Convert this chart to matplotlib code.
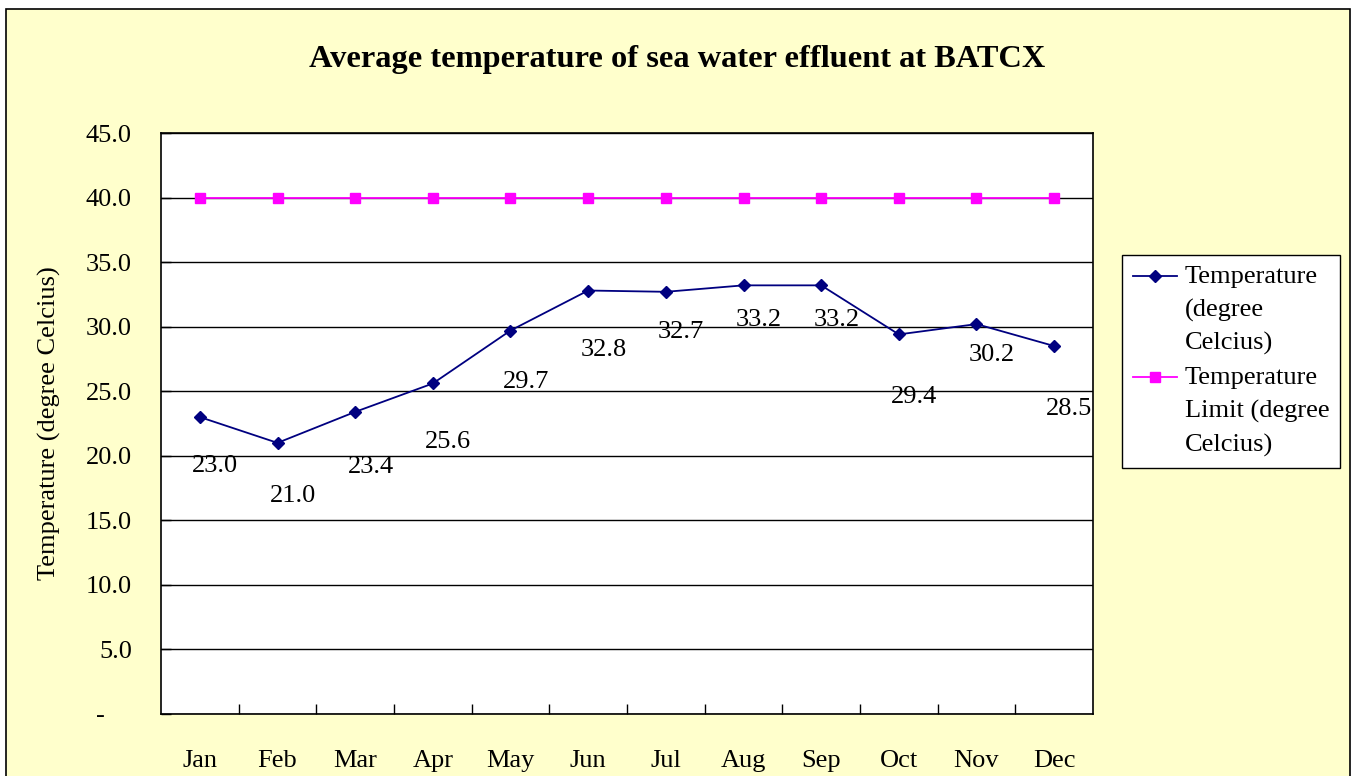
import numpy as np
import matplotlib.pyplot as plt
from matplotlib.patches import Rectangle
from matplotlib.ticker import FixedLocator
from matplotlib.legend_handler import HandlerLine2D

months = ["Jan", "Feb", "Mar", "Apr", "May", "Jun",
          "Jul", "Aug", "Sep", "Oct", "Nov", "Dec"]
temperature = [23.0, 21.0, 23.4, 25.6, 29.7, 32.8, 32.7, 33.2, 33.2, 29.4, 30.2, 28.5]
temp_limit = [40.0] * 12
# how far below its point each data label sits (points), hand placed like in the source
label_drop = [35, 38, 40, 42, 37, 43, 29, 25, 25, 45, 22, 45]

FS = 19
LSP = 1.6

plt.rcParams["font.family"] = ["Liberation Serif", "DejaVu Serif"]


class FirstLineHandler(HandlerLine2D):
    # put the legend line next to the first line of a wrapped label (Excel style)
    def __init__(self, shift, **kw):
        super().__init__(**kw)
        self.shift = shift

    def create_artists(self, legend, orig_handle, xdescent, ydescent,
                       width, height, fontsize, trans):
        arts = super().create_artists(legend, orig_handle, xdescent, ydescent,
                                      width, height, fontsize, trans)
        for a in arts:
            a.set_ydata(np.asarray(a.get_ydata()) + self.shift)
        return arts


fig = plt.figure(figsize=(13.54, 7.76), dpi=100, facecolor="white")

# yellow chart area with its thin frame (bottom edge cut off in the source)
fig.patches.append(Rectangle((6 / 1354, -0.05), 1344 / 1354, 1.05 - 9 / 776,
                             transform=fig.transFigure, facecolor="#FFFFCC",
                             edgecolor="black", linewidth=1.2, zorder=-10))

ax = fig.add_axes([161 / 1354, 62 / 776, 932 / 1354, 581 / 776])
ax.set_facecolor("white")

x = np.arange(len(months))
l1, = ax.plot(x, temperature, color="#000080", marker="D", markersize=6.5, linewidth=1.3,
              label="Temperature\n(degree\nCelcius)", zorder=3)
l2, = ax.plot(x, temp_limit, color="#FF00FF", marker="s", markersize=6.5, linewidth=1.3,
              label="Temperature\nLimit (degree\nCelcius)", zorder=3)

for xi, v, d in zip(x, temperature, label_drop):
    ax.annotate(f"{v:.1f}", (xi, v), xytext=(11, -d), textcoords="offset points",
                ha="center", va="center", fontsize=FS)

ax.set_xlim(-0.5, len(months) - 0.5)
ax.set_ylim(0, 45)
ax.set_yticks(np.arange(0, 46, 5))
ax.set_yticklabels(["-    "] + [f"{v:.1f}" for v in np.arange(5, 46, 5)], fontsize=FS)
ax.set_xticks(x)
ax.set_xticklabels(months, fontsize=FS)
ax.xaxis.set_minor_locator(FixedLocator(np.arange(0.5, len(months) - 1, 1)))
ax.tick_params(axis="x", which="major", length=0, pad=26)
ax.tick_params(axis="x", which="minor", direction="in", length=7, width=1)
ax.tick_params(axis="y", direction="in", length=7, width=1, pad=21)
ax.grid(axis="y", color="black", linewidth=1)
ax.set_axisbelow(True)
for s in ax.spines.values():
    s.set_linewidth(1.2)
    s.set_color("black")

ax.set_ylabel("Temperature (degree Celcius)", fontsize=FS, labelpad=18)

fig.text(677 / 1354, 1 - 59 / 776,
         "Average temperature of sea water effluent at BATCX",
         ha="center", va="center", fontsize=23.3, fontweight="bold")

shift = 24.6  # one text line, in points
leg = fig.legend(handles=[l1, l2], loc="upper left",
                 bbox_to_anchor=(1122 / 1354, 1 - 255 / 776),
                 fontsize=FS, frameon=True, fancybox=False, framealpha=1,
                 edgecolor="black", handlelength=1.65, handletextpad=0.3,
                 borderpad=0.42, labelspacing=0.45, borderaxespad=0,
                 handler_map={l1: FirstLineHandler(shift), l2: FirstLineHandler(shift)})
leg.get_frame().set_linewidth(1)
for t in leg.get_texts():
    t.set_linespacing(LSP)

fig.savefig("out.png", dpi=100, facecolor=fig.get_facecolor())
